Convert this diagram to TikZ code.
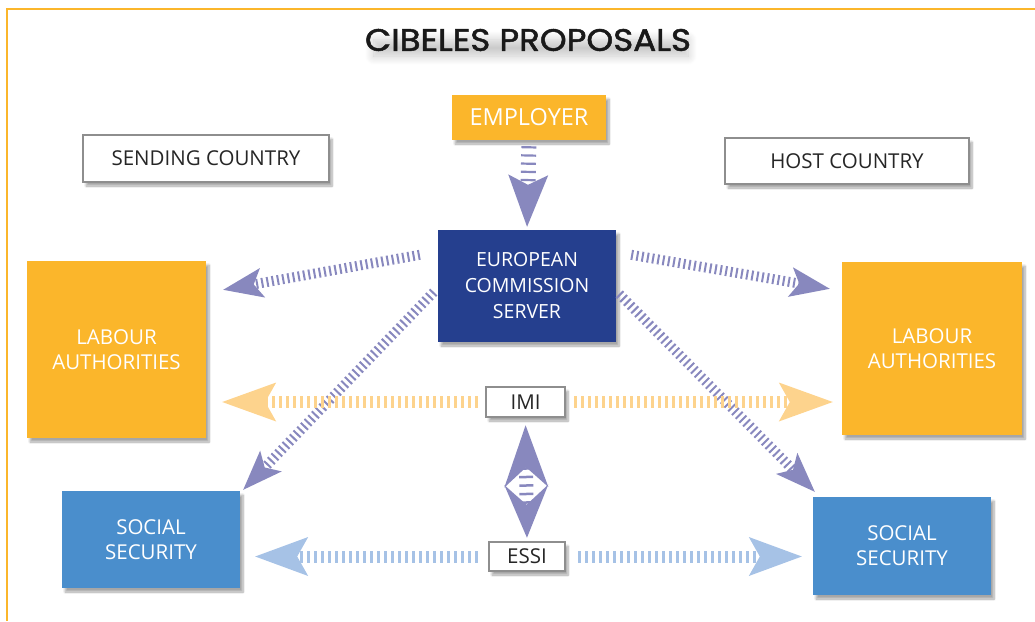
\documentclass[tikz,border=0pt]{standalone}
\usepackage{fontspec}
\setmainfont{Open Sans}
\newfontfamily\titlefont[FakeBold=1.6,FakeStretch=1.1]{Poppins}
\usetikzlibrary{arrows.meta,positioning,calc,shadows.blur}
\definecolor{cibOrange}{RGB}{251,182,43}
\definecolor{cibNavy}{RGB}{37,63,142}
\definecolor{cibBlue}{RGB}{74,142,204}
\definecolor{cibPurple}{RGB}{136,136,190}
\definecolor{cibPeach}{RGB}{253,211,141}
\definecolor{cibSky}{RGB}{166,194,230}
\definecolor{cibGrey}{RGB}{142,142,142}

\begin{document}
\begin{tikzpicture}[x=1pt,y=-1pt,
  txt/.style={font=\fontsize{20.5}{25}\selectfont},
  shade/.style={blur shadow={shadow xshift=3pt,shadow yshift=-4pt,shadow opacity=35,shadow blur steps=8}},
  orangebox/.style={txt,shade,fill=cibOrange,text=white,align=center},
  bluebox/.style={txt,shade,fill=cibBlue,text=white,align=center},
  navybox/.style={shade,fill=cibNavy,text=white,align=center,font=\fontsize{19.5}{26}\selectfont},
  greybox/.style={txt,shade,draw=cibGrey,line width=2.5pt,fill=white,text=black!85},
  purplink/.style={draw=cibPurple,line width=10pt,dash pattern=on 2pt off 3.3pt,
    -{Stealth[length=40pt,width=30pt,inset=9pt,line width=0pt]}},
  peachlink/.style={draw=cibPeach,line width=12pt,dash pattern=on 2.5pt off 4.5pt,
    -{Stealth[length=54pt,width=39pt,inset=11pt,line width=0pt]}},
  skylink/.style={draw=cibSky,line width=12pt,dash pattern=on 2.5pt off 4.5pt,
    -{Stealth[length=53pt,width=39pt,inset=11pt,line width=0pt]}},
]
\useasboundingbox (0,0) rectangle (1035,621);

% frame
\draw[cibOrange,line width=2.5pt] (1035,9) -| (7,621);

% title
\node[blur shadow={shadow yshift=-8pt,shadow xshift=3pt,shadow opacity=22,shadow blur radius=9pt,shadow blur steps=14},
  inner xsep=-6pt,inner ysep=-3pt,
  font=\titlefont\fontsize{31}{36}\selectfont,text=black!90] (title) at (528,40) {CIBELES PROPOSALS};

% boxes
\node[orangebox,minimum width=154pt,minimum height=45pt,font=\fontsize{23.5}{28}\selectfont] (employer) at (529,117.5) {EMPLOYER};
\node[greybox,minimum width=246pt,minimum height=47pt] (sending) at (206,158.5) {SENDING COUNTRY};
\node[greybox,minimum width=244pt,minimum height=46pt] (host) at (847,161) {HOST COUNTRY};
\node[navybox,minimum width=178pt,minimum height=112pt] (ecs) at (527,286) {EUROPEAN\\COMMISSION\\SERVER};
\node[orangebox,minimum width=179pt,minimum height=177pt] (labL) at (116.5,349.5) {LABOUR\\AUTHORITIES};
\node[orangebox,minimum width=180pt,minimum height=173pt] (labR) at (932,348.5) {LABOUR\\AUTHORITIES};
\node[greybox,minimum width=79pt,minimum height=30pt,inner sep=0pt] (imi) at (525.5,402) {IMI};
\node[greybox,minimum width=76pt,minimum height=29pt,inner sep=0pt] (essi) at (527,556.5) {ESSI};
\node[bluebox,minimum width=178pt,minimum height=97pt] (socL) at (151,539.5) {SOCIAL\\SECURITY};
\node[bluebox,minimum width=178pt,minimum height=98pt] (socR) at (902,546) {SOCIAL\\SECURITY};

% server links
\draw[draw=cibPurple,line width=15pt,dash pattern=on 2.2pt off 6pt,shorten <=6pt,shorten >=3pt,
  -{Stealth[length=52pt,width=40pt,inset=10pt,line width=0pt]}] (employer.south) -- (ecs.north);
\draw[purplink] ($(ecs.north west)+(-18,25)$) -- ($(labL.north east)+(17,29)$);
\draw[purplink] ($(ecs.north east)+(15,25)$) -- ($(labR.north west)+(-12,27)$);
\draw[purplink] ($(ecs.west)+(-4,6)$) -- ($(socL.north east)+(3,-1)$);
\draw[purplink] ($(ecs.east)+(3,8)$) -- ($(socR.north west)+(2,-5)$);

% IMI and ESSI links
\draw[peachlink,shorten <=7pt,shorten >=16pt] (imi.west) -- (labL.east |- imi.west);
\draw[peachlink,shorten <=8pt,shorten >=9pt] (imi.east) -- (labR.west |- imi.east);
\draw[skylink,shorten <=10pt,shorten >=15pt] (essi.west) -- (socL.east |- essi.west);
\draw[skylink,shorten <=12pt,shorten >=11pt] (essi.east) -- (socR.west |- essi.east);
\draw[draw=cibPurple,line width=14pt,dash pattern=on 2.5pt off 6pt,shorten <=7pt,shorten >=3pt,
  {Stealth[length=62pt,width=44pt,inset=20pt,line width=0pt]}-{Stealth[length=53pt,width=44pt,inset=20pt,line width=0pt]}]
  (imi.south) -- (essi.north);
\end{tikzpicture}
\end{document}
